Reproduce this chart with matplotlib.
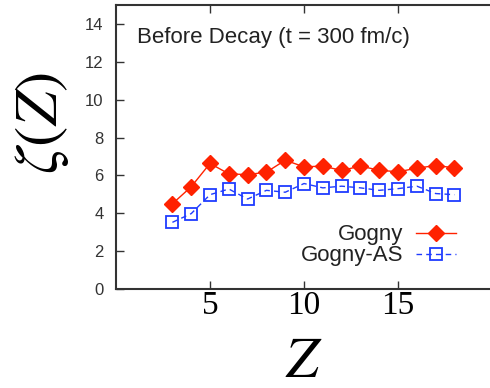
import matplotlib
matplotlib.use("Agg")
import matplotlib.pyplot as plt
from matplotlib import font_manager

plt.rcParams["mathtext.fontset"] = "stix"

Z = [3, 4, 5, 6, 7, 8, 9, 10, 11, 12, 13, 14, 15, 16, 17, 18]
gogny = [4.5, 5.4, 6.63, 6.08, 6.04, 6.17, 6.8, 6.45, 6.49, 6.26, 6.49, 6.27, 6.19, 6.38, 6.52, 6.4]
gogny_as = [3.52, 3.98, 4.98, 5.28, 4.75, 5.21, 5.11, 5.57, 5.34, 5.43, 5.34, 5.21, 5.30, 5.43, 5.04, 4.98]
xticks = [5, 10, 15]
yticks = [0, 2, 4, 6, 8, 10, 12, 14]

names = {f.name for f in font_manager.fontManager.ttflist}
narrow = "Liberation Sans Narrow" if "Liberation Sans Narrow" in names else "Liberation Sans"

fig = plt.figure(figsize=(4.9, 3.88), dpi=100)
ax = fig.add_axes([0.2367, 0.2552, 0.7676, 0.732])

red = "#ff2200"
blue = "#1f3cff"
ax.plot(Z, gogny, color=red, lw=1.0, marker="D", ms=8, mfc=red, mec=red,
        label="Gogny")
ax.plot(Z, gogny_as, color=blue, lw=1.0, ls=(0, (4, 3)), marker="s", ms=8.5,
        mfc="none", mec=blue, mew=1.3, label="Gogny-AS")

ax.set_xlim(0, 20)
ax.set_ylim(0, 15)
ax.set_xticks(xticks)
ax.set_yticks(yticks)
ax.set_xticklabels([str(t) for t in xticks], fontfamily="Liberation Serif", fontsize=24)
ax.set_yticklabels([str(t) for t in yticks], fontfamily=narrow, fontsize=12,
                   color="#333333")
ax.tick_params(axis="both", direction="in", length=6, width=1.0, color="#333333",
               top=True, right=False)
ax.tick_params(axis="x", pad=1)
ax.tick_params(axis="y", pad=9)
for s in ax.spines.values():
    s.set_linewidth(1.5)
    s.set_color("#333333")

ax.text(0.055, 0.885, "Before Decay (t = 300 fm/c)", transform=ax.transAxes,
        fontfamily="Liberation Sans", fontsize=16, color="#222222", va="center")

ax.set_xlabel(r"$Z$", fontsize=42, labelpad=8)
fig.text(0.085, 0.683, r"$\zeta(Z)$", rotation=90, fontsize=44, ha="center", va="center")

leg = ax.legend(loc="lower right", bbox_to_anchor=(0.945, 0.025), frameon=False,
                markerfirst=False, prop={"family": "Liberation Sans", "size": 16},
                handlelength=1.8, labelspacing=0.0, handletextpad=0.55,
                borderpad=0.2)
for t in leg.get_texts():
    t.set_color("#222222")

fig.savefig("out.png", dpi=100)
